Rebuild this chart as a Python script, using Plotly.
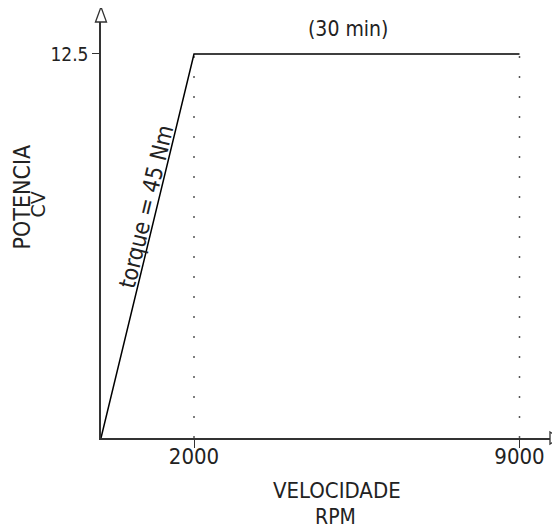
import plotly.graph_objects as go

# Data
rpm = [0, 2000, 9000]
power_cv = [0, 12.5, 12.5]
x_ticks = [2000, 9000]
x_tick_labels = ["2000", "9000"]
y_ticks = [12.5]
y_tick_labels = ["12.5"]

X_RANGE = [0, 9656]
Y_RANGE = [0, 13.54]
FONT = "DejaVu Sans Condensed, DejaVu Sans, sans-serif"
INK = "#222"
AXIS = "#333"

fig = go.Figure()

# dotted verticals
for xv in x_ticks:
    fig.add_trace(go.Scatter(x=[xv, xv], y=[0, 12.5], mode="lines",
                             line=dict(color="#555", width=1.5, dash="2px,18px"),
                             hoverinfo="skip", showlegend=False))

# main curve
fig.add_trace(go.Scatter(x=rpm, y=power_cv, mode="lines",
                         line=dict(color="black", width=1.5),
                         showlegend=False))

fig.update_xaxes(range=X_RANGE, showgrid=False, zeroline=False,
                 showline=True, linecolor=AXIS, linewidth=1.5,
                 ticks="outside", ticklen=8, tickcolor=AXIS, tickwidth=1,
                 tickvals=x_ticks, ticktext=x_tick_labels,
                 ticklabelstandoff=-10,
                 tickfont=dict(family=FONT, size=22, color=INK))
fig.update_yaxes(range=Y_RANGE, showgrid=False, zeroline=False,
                 showline=True, linecolor=AXIS, linewidth=1.5,
                 ticks="outside", ticklen=7, tickcolor=AXIS, tickwidth=1,
                 tickvals=y_ticks, ticktext=y_tick_labels,
                 tickfont=dict(family=FONT, size=19, color=INK))

# open arrow heads at the ends of the axes (pixel-sized shapes anchored to the axis ends)
fig.add_shape(type="path", xref="paper", yref="paper",
              xsizemode="pixel", ysizemode="pixel", xanchor=1, yanchor=0,
              path="M 0,6 L 10,0 L 0,-6 Z",
              line=dict(color=AXIS, width=1.3), fillcolor="white")
fig.add_shape(type="path", xref="paper", yref="paper",
              xsizemode="pixel", ysizemode="pixel", xanchor=0, yanchor=1,
              path="M -5.5,0 L 0,15 L 5.5,0 Z",
              line=dict(color=AXIS, width=1.3), fillcolor="white")

fig.add_annotation(x=5312, y=13.31, xref="x", yref="y", text="(30 min)",
                   showarrow=False, font=dict(family=FONT, size=21, color=INK))
fig.add_annotation(x=968, y=7.52, xref="x", yref="y", text="torque = 45 Nm",
                   textangle=-76.4, showarrow=False,
                   font=dict(family=FONT, size=23, color=INK))

# axis titles, one annotation per line
fig.add_annotation(x=-0.176, y=0.5805, xref="paper", yref="paper", text="POTENCIA",
                   textangle=-90, showarrow=False, xanchor="center", yanchor="middle",
                   font=dict(family=FONT, size=23, color=INK))
fig.add_annotation(x=-0.1381, y=0.5613, xref="paper", yref="paper", text="CV",
                   textangle=-90, showarrow=False, xanchor="center", yanchor="middle",
                   font=dict(family="DejaVu Sans", size=19, color=INK))

fig.add_annotation(x=0.525, y=-0.125, xref="paper", yref="paper", text="VELOCIDADE",
                   showarrow=False, xanchor="center", yanchor="middle",
                   font=dict(family=FONT, size=22, color=INK))
fig.add_annotation(x=0.5212, y=-0.1899, xref="paper", yref="paper", text="RPM",
                   showarrow=False, xanchor="center", yanchor="middle",
                   font=dict(family=FONT, size=21, color=INK))

fig.update_layout(width=560, height=529, margin=dict(l=93, r=18, t=14, b=99),
                  plot_bgcolor="white", paper_bgcolor="white",
                  showlegend=False)

fig.write_html("out.html")
